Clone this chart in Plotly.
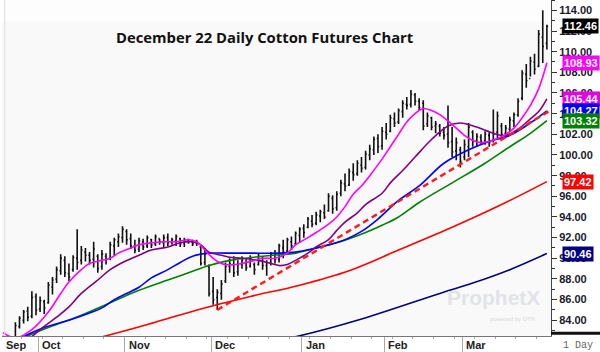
import plotly.graph_objects as go

# ---------------- data ----------------
months = ["Sep", "Oct", "Nov", "Dec", "Jan", "Feb", "Mar"]
month_start = [0, 9, 30, 51, 73, 93, 112]   # bar index of first session of each month

opens = [82.3, 81.5, 81.4, 82.2, 83.4, 84.0, 84.9, 84.4, 86.3, 85.1,
         85.8, 85.7, 87.2, 88.0, 88.8, 89.8, 88.5, 88.9, 90.0, 89.8,
         90.6, 90.3, 89.9, 90.2, 89.2, 90.2, 90.0, 91.2, 91.6, 92.0,
         92.6, 91.9, 91.2, 90.9, 91.6, 91.2, 91.8, 91.4, 91.9, 91.5,
         92.0, 91.6, 91.7, 91.9, 91.5, 91.7, 91.6, 91.5, 91.1, 89.6,
         89.2, 86.8, 86.2, 86.6, 87.8, 89.2, 89.4, 88.7, 89.4, 89.6,
         89.2, 89.4, 89.4, 90.0, 89.3, 89.6, 90.3, 89.9, 91.0, 90.7,
         91.6, 91.4, 92.2, 92.9, 93.0, 93.6, 93.4, 94.1, 94.4, 94.6,
         95.8, 94.9, 96.3, 97.2, 97.1, 98.3, 98.2, 99.0, 98.8, 100.0,
         100.5, 101.6, 100.9, 102.2, 102.3, 103.5, 103.2, 104.2, 104.9, 104.9,
         105.8, 105.2, 105.0, 103.0, 103.6, 102.8, 102.8, 102.2, 102.0, 101.3,
         100.4, 100.5, 99.8, 100.8, 102.2, 101.4, 101.7, 101.4, 101.9, 101.4,
         102.2, 102.8, 102.1, 102.5, 103.3, 103.9, 105.5, 107.8, 107.4, 109.0,
         108.6, 111.4, 110.8]
highs = [82.5, 82.0, 82.4, 83.8, 84.4, 85.0, 85.3, 86.8, 86.6, 86.3,
         86.0, 87.7, 88.2, 89.2, 90.4, 90.2, 89.5, 90.3, 92.8, 91.2,
         91.0, 90.6, 91.6, 90.4, 90.8, 90.5, 91.6, 92.0, 92.4, 93.1,
         92.8, 92.4, 91.8, 92.0, 91.9, 92.2, 91.9, 92.3, 91.9, 92.3,
         92.4, 92.0, 92.3, 92.0, 92.0, 91.9, 91.8, 91.8, 91.3, 91.0,
         89.4, 88.2, 87.0, 87.9, 89.6, 90.0, 90.2, 89.8, 90.2, 89.9,
         90.3, 89.6, 90.5, 90.2, 89.8, 90.6, 90.8, 91.4, 91.8, 92.0,
         92.1, 92.6, 93.0, 93.3, 94.0, 94.2, 94.5, 94.7, 95.2, 96.3,
         96.1, 96.5, 97.6, 98.2, 98.7, 99.2, 99.5, 99.8, 100.4, 101.0,
         101.8, 102.0, 102.7, 103.1, 103.9, 104.1, 104.5, 105.3, 105.6, 106.3,
         106.0, 105.5, 105.3, 104.1, 103.7, 103.3, 103.0, 102.7, 104.8, 102.7,
         101.7, 100.8, 101.5, 103.1, 102.4, 102.1, 102.0, 102.3, 102.2, 104.4,
         104.2, 103.1, 102.9, 103.7, 104.1, 105.5, 108.2, 108.8, 109.5, 109.8,
         112.1, 114.0, 112.6]
lows = [81.3, 80.9, 81.2, 82.0, 83.2, 83.7, 83.9, 84.2, 84.5, 84.8,
        84.6, 85.6, 86.5, 87.6, 88.4, 88.2, 87.8, 88.7, 88.9, 89.4,
        89.7, 89.4, 89.1, 88.6, 88.9, 89.4, 89.8, 90.3, 91.1, 91.5,
        91.3, 90.9, 90.5, 90.6, 90.8, 91.0, 91.0, 91.2, 91.3, 91.0,
        91.2, 91.3, 91.2, 91.1, 91.1, 91.4, 91.2, 91.2, 89.3, 89.3,
        86.3, 85.5, 85.0, 86.0, 87.6, 88.6, 88.2, 88.3, 89.0, 88.8,
        89.1, 88.4, 89.3, 88.9, 88.3, 89.3, 89.5, 89.6, 90.0, 90.5,
        90.8, 91.3, 91.5, 92.0, 92.9, 93.0, 93.2, 93.5, 93.8, 94.5,
        94.3, 94.6, 96.0, 96.5, 97.0, 97.5, 98.0, 98.3, 98.6, 99.5,
        100.0, 100.2, 100.5, 101.5, 102.2, 102.7, 103.0, 103.6, 104.4, 104.6,
        104.8, 104.3, 102.4, 102.7, 102.4, 102.1, 101.8, 101.5, 100.7, 99.8,
        99.5, 98.8, 99.5, 99.8, 100.8, 100.8, 101.0, 101.0, 100.8, 101.2,
        101.5, 101.6, 101.8, 102.2, 102.7, 103.7, 105.3, 106.5, 107.6, 107.8,
        108.5, 108.9, 110.2]
closes = [81.6, 81.4, 82.1, 83.5, 84.2, 84.8, 84.3, 86.2, 85.0, 85.9,
          85.2, 87.4, 87.9, 88.9, 90.0, 88.6, 88.2, 90.1, 89.6, 90.8,
          90.3, 89.8, 90.9, 89.0, 90.4, 89.9, 91.3, 91.8, 92.1, 92.8,
          91.8, 91.2, 90.8, 91.7, 91.1, 92.0, 91.3, 92.1, 91.6, 92.0,
          91.5, 91.8, 92.1, 91.4, 91.8, 91.6, 91.4, 91.6, 89.5, 90.4,
          86.6, 86.0, 86.7, 87.5, 89.2, 89.5, 88.6, 89.4, 89.8, 89.1,
          90.0, 88.9, 90.2, 89.3, 89.6, 90.4, 89.9, 91.2, 90.6, 91.8,
          91.2, 92.4, 92.8, 92.5, 93.8, 93.3, 94.2, 94.5, 94.0, 96.0,
          94.8, 96.2, 97.3, 97.0, 98.4, 98.1, 99.2, 98.7, 100.1, 100.6,
          101.5, 100.8, 102.3, 102.0, 103.6, 103.1, 104.3, 105.0, 104.8, 105.9,
          105.2, 104.6, 102.8, 103.8, 102.7, 103.0, 102.1, 101.9, 101.2, 100.3,
          101.2, 99.4, 101.0, 102.7, 101.3, 101.8, 101.3, 102.0, 101.2, 102.0,
          103.8, 102.0, 102.6, 103.4, 103.9, 105.2, 107.9, 107.2, 109.1, 108.3,
          111.7, 110.5, 112.46]

# moving averages (bar index, value)
ma_fast_idx = [0, 3, 7, 11, 14, 16, 19, 21, 24, 26, 28, 31, 33, 36, 39, 42, 45, 47, 49, 51,
               53, 55, 58, 61, 63, 66, 69, 71, 74, 76, 79, 81, 83, 85, 87, 89, 92, 94, 96, 98,
               100, 102, 104, 106, 108, 110, 112, 114, 116, 118, 120, 122, 124, 126, 128, 130, 132]
ma_fast_val = [82.8, 82.3, 83.1, 84.8, 86.6, 87.7, 88.9, 89.5, 89.8, 90.0, 90.5, 91.0, 91.3, 91.5,
               91.6, 91.6, 91.8, 91.6, 90.8, 90.0, 89.5, 89.35, 89.5, 89.8, 90.0, 90.0, 90.5, 91.3,
               92.0, 92.5, 93.3, 94.0, 95.0, 96.2, 97.0, 98.0, 99.6, 100.8, 102.0, 103.2, 104.0,
               104.5, 104.3, 103.9, 103.3, 102.6, 101.9, 101.4, 101.2, 101.3, 101.6, 102.0, 102.6,
               103.6, 104.8, 106.4, 108.93]
ma_mid_idx = [0, 5, 10, 13, 16, 19, 23, 26, 29, 33, 36, 40, 43, 46, 48, 50, 53, 55, 58, 62, 65,
              67, 69, 71, 74, 76, 79, 81, 83, 86, 88, 92, 94, 97, 100, 104, 108, 111, 115, 119,
              122, 125, 128, 130, 132]
ma_mid_val = [80.5, 81.8, 83.4, 84.3, 85.3, 86.6, 87.9, 88.9, 89.6, 90.3, 90.8, 91.1, 91.5, 91.6,
              91.3, 90.6, 90.3, 90.1, 90.0, 89.8, 89.5, 89.3, 89.4, 89.8, 90.5, 91.1, 91.8, 92.7,
              93.5, 94.4, 95.2, 96.3, 97.3, 98.5, 99.8, 101.5, 102.8, 103.1, 102.7, 102.1, 101.9,
              102.5, 103.5, 104.2, 105.44]
ma_blue_idx = [0, 5, 10, 16, 21, 24, 27, 30, 33, 36, 40, 43, 46, 50, 54, 60, 67, 71, 75, 79, 83,
               87, 91, 96, 101, 107, 113, 118, 123, 128, 132]
ma_blue_val = [81.0, 82.4, 83.3, 84.0, 84.7, 85.2, 86.0, 86.6, 87.2, 88.1, 88.9, 89.6, 90.2, 90.5,
               90.5, 90.5, 90.5, 90.6, 90.9, 91.3, 91.8, 92.6, 93.8, 95.6, 97.0, 99.2, 100.5,
               101.3, 101.9, 103.1, 104.27]
ma_green_idx = [0, 11, 19, 26, 33, 40, 45, 50, 55, 63, 71, 75, 80, 84, 88, 92, 96, 101, 109, 117,
                123, 128, 132]
ma_green_val = [81.5, 83.3, 84.5, 85.7, 86.9, 87.9, 88.6, 89.3, 89.8, 90.2, 90.5, 90.9, 91.4,
                91.9, 92.5, 93.2, 94.0, 95.4, 97.3, 99.2, 100.8, 102.1, 103.32]
ma_red_idx = [0, 26, 36, 48, 60, 72, 84, 96, 109, 121, 132]
ma_red_val = [80.0, 82.6, 83.7, 85.1, 86.3, 87.4, 88.8, 90.8, 93.0, 95.2, 97.42]
ma_navy_idx = [40, 72, 86, 106, 114, 123, 132]
ma_navy_val = [80.0, 82.5, 84.0, 86.6, 87.6, 88.9, 90.46]

trend_idx = [52, 133]
trend_val = [85.0, 104.35]

label_vals = [112.46, 108.93, 105.44, 104.27, 103.32, 97.42, 90.46]
label_colors = ["#000000", "#ff00ff", "#e600e6", "#0000ff", "#008000", "#ff0000", "#000080"]

y_ticks = list(range(84, 116, 2))

X_MIN, X_MAX = -0.25, 133.0

# ---------------- figure ----------------
idx = list(range(len(closes)))
fig = go.Figure()

ma_specs = [
    (ma_navy_idx, ma_navy_val, "#000080"),
    (ma_red_idx, ma_red_val, "#ff0000"),
    (ma_green_idx, ma_green_val, "#008000"),
    (ma_blue_idx, ma_blue_val, "#0000ff"),
    (ma_mid_idx, ma_mid_val, "#800080"),
    (ma_fast_idx, ma_fast_val, "#ff00ff"),
]
for xs, ys, col in ma_specs:
    fig.add_trace(go.Scatter(x=xs, y=ys, mode="lines",
                             line=dict(color=col, width=1.6, shape="spline", smoothing=1.0),
                             hoverinfo="skip", showlegend=False))

fig.add_trace(go.Scatter(x=trend_idx, y=trend_val, mode="lines",
                         line=dict(color="#ff1a1a", width=2.4, dash="6px,4px"),
                         hoverinfo="skip", showlegend=False))

fig.add_trace(go.Ohlc(x=idx, open=opens, high=highs, low=lows, close=closes,
                      increasing=dict(line=dict(color="#111111", width=1.6)),
                      decreasing=dict(line=dict(color="#111111", width=1.6)),
                      tickwidth=0.3, showlegend=False))

annotations = []
# price boxes on the right axis
for v, c in zip(label_vals, label_colors):
    annotations.append(dict(xref="paper", x=1, xanchor="left", xshift=11,
                            yref="y", y=v, yanchor="middle",
                            text="<b>%.2f</b>" % v, showarrow=False,
                            font=dict(family="Arial", size=11, color="white"),
                            bgcolor=c, borderpad=1))
# month labels
for m, s in zip(months, month_start):
    annotations.append(dict(xref="x", x=max(s - 0.5, X_MIN), xanchor="left", xshift=2,
                            yref="paper", y=0, yanchor="top", yshift=-1,
                            text="<b>%s</b>" % m, showarrow=False,
                            font=dict(family="Arial", size=11, color="#222222")))
# title
annotations.append(dict(xref="paper", x=0.479, yref="paper", y=0.89,
                        xanchor="center", yanchor="middle",
                        text="<b>December 22 Daily Cotton Futures Chart</b>",
                        showarrow=False,
                        font=dict(family="Open Sans", size=14.8, color="#111111")))
# period
annotations.append(dict(xref="paper", x=1, xanchor="left", xshift=10,
                        yref="paper", y=0, yanchor="top", yshift=-2,
                        text="1 Day", showarrow=False,
                        font=dict(family="Liberation Mono", size=10, color="#666666")))
# watermark
annotations.append(dict(xref="paper", x=0.895, yref="paper", y=0.115,
                        xanchor="center", yanchor="middle",
                        text="<b>ProphetX</b>", showarrow=False,
                        font=dict(family="Arial", size=21, color="#e2e3e8")))
annotations.append(dict(xref="paper", x=0.93, yref="paper", y=0.05,
                        xanchor="center", yanchor="middle",
                        text="powered by DTN", showarrow=False,
                        font=dict(family="Arial", size=6, color="#d8d8d8")))

shapes = [
    dict(type="line", xref="paper", x0=1, x1=1.1, yref="paper", y0=0.008, y1=0.008,
         line=dict(color="#111111", width=3)),
    dict(type="line", xref="paper", x0=0.005, x1=0.005, yref="paper", y0=0, y1=1,
         line=dict(color="#dddddd", width=1)),
    dict(type="rect", xref="paper", x0=0, x1=1, yref="paper", y0=0.935, y1=1,
         fillcolor="#fdfdfd", line=dict(width=0), layer="below"),
]

fig.update_layout(
    width=600, height=352,
    margin=dict(l=2, r=49, t=0, b=16),
    paper_bgcolor="white", plot_bgcolor="#f9f9f9",
    showlegend=False,
    annotations=annotations, shapes=shapes,
    xaxis=dict(range=[X_MIN, X_MAX], showgrid=False, zeroline=False,
               rangeslider=dict(visible=False),
               tickmode="array", tickvals=[s - 0.5 for s in month_start],
               ticks="outside", ticklen=16, tickcolor="#aaaaaa", tickwidth=1,
               showticklabels=False,
               showline=True, linecolor="#777777", linewidth=1,
               minor=dict(ticks="outside", ticklen=2, tickcolor="#aaaaaa", dtick=5, tick0=-0.5)),
    yaxis=dict(side="right", range=[82.48, 115.0], showgrid=False, zeroline=False,
               tickmode="array", tickvals=y_ticks, ticktext=["%.2f" % v for v in y_ticks],
               ticks="outside", ticklen=5, tickcolor="#333333",
               tickfont=dict(family="Arial", size=11, color="#1a1a2a", weight="bold"),
               showline=True, linecolor="#444444", linewidth=1,
               minor=dict(ticks="outside", ticklen=3, tickcolor="#333333", dtick=1)),
)

fig.write_html("out.html")
